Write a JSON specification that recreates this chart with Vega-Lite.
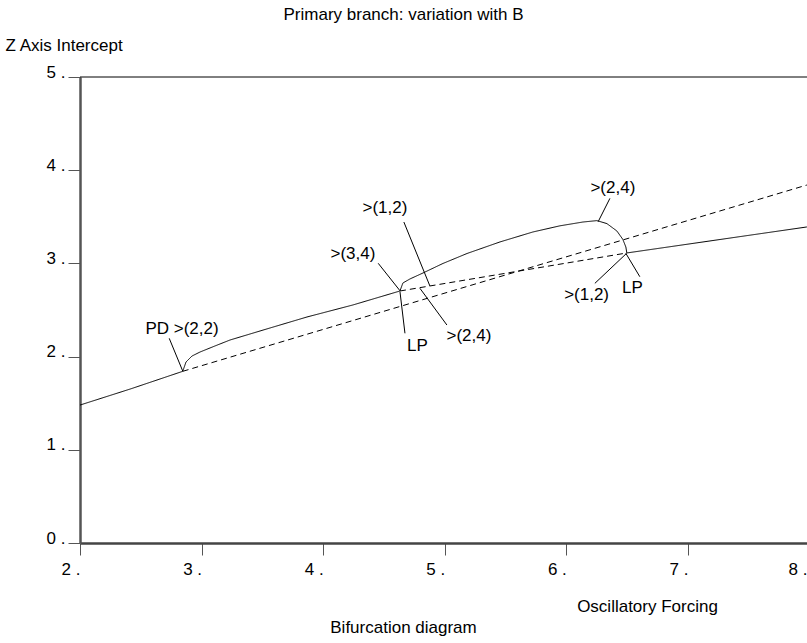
{
  "$schema": "https://vega.github.io/schema/vega-lite/v6.json",
  "width": 727,
  "height": 466,
  "autosize": {"type": "none"},
  "padding": {"left": 80, "top": 77, "right": 0, "bottom": 100},
  "background": "white",
  "config": {
    "view": {"stroke": null},
    "font": "Liberation Sans",
    "axis": {"labelFont": "Liberation Sans", "titleFont": "Liberation Sans", "labelColor": "black", "titleColor": "black", "titleFontWeight": "normal", "grid": false}
  },
  "title": {"text": "Primary branch: variation with B", "anchor": "middle", "frame": "group", "dx": -40, "offset": 12, "fontSize": 17, "fontWeight": "normal", "font": "Liberation Sans", "color": "black"},
  "datasets": {
    "curves": [
      {"seg": "A", "dash": "solid", "o": 1, "x": 2.0, "y": 1.48},
      {"seg": "A", "dash": "solid", "o": 2, "x": 2.42, "y": 1.655},
      {"seg": "A", "dash": "solid", "o": 3, "x": 2.845, "y": 1.842},
      {"seg": "B", "dash": "dashed", "o": 1, "x": 2.845, "y": 1.842},
      {"seg": "B", "dash": "dashed", "o": 2, "x": 7.979, "y": 3.841},
      {"seg": "C", "dash": "solid", "o": 1, "x": 2.845, "y": 1.842},
      {"seg": "C", "dash": "solid", "o": 2, "x": 2.872, "y": 1.942},
      {"seg": "C", "dash": "solid", "o": 3, "x": 2.921, "y": 2.006},
      {"seg": "C", "dash": "solid", "o": 4, "x": 2.987, "y": 2.049},
      {"seg": "C", "dash": "solid", "o": 5, "x": 3.11, "y": 2.114},
      {"seg": "C", "dash": "solid", "o": 6, "x": 3.234, "y": 2.178},
      {"seg": "C", "dash": "solid", "o": 7, "x": 3.563, "y": 2.307},
      {"seg": "C", "dash": "solid", "o": 8, "x": 3.867, "y": 2.425},
      {"seg": "C", "dash": "solid", "o": 9, "x": 4.245, "y": 2.554},
      {"seg": "C", "dash": "solid", "o": 10, "x": 4.632, "y": 2.704},
      {"seg": "D", "dash": "solid", "o": 1, "x": 4.632, "y": 2.704},
      {"seg": "D", "dash": "solid", "o": 2, "x": 4.656, "y": 2.79},
      {"seg": "D", "dash": "solid", "o": 3, "x": 4.714, "y": 2.833},
      {"seg": "D", "dash": "solid", "o": 4, "x": 4.821, "y": 2.897},
      {"seg": "D", "dash": "solid", "o": 5, "x": 4.985, "y": 2.999},
      {"seg": "D", "dash": "solid", "o": 6, "x": 5.183, "y": 3.106},
      {"seg": "D", "dash": "solid", "o": 7, "x": 5.454, "y": 3.23},
      {"seg": "D", "dash": "solid", "o": 8, "x": 5.725, "y": 3.337},
      {"seg": "D", "dash": "solid", "o": 9, "x": 5.947, "y": 3.403},
      {"seg": "D", "dash": "solid", "o": 10, "x": 6.137, "y": 3.444},
      {"seg": "D", "dash": "solid", "o": 11, "x": 6.252, "y": 3.459},
      {"seg": "D", "dash": "solid", "o": 12, "x": 6.334, "y": 3.427},
      {"seg": "D", "dash": "solid", "o": 13, "x": 6.416, "y": 3.348},
      {"seg": "D", "dash": "solid", "o": 14, "x": 6.465, "y": 3.258},
      {"seg": "D", "dash": "solid", "o": 15, "x": 6.49, "y": 3.176},
      {"seg": "D", "dash": "solid", "o": 16, "x": 6.498, "y": 3.112},
      {"seg": "E", "dash": "solid", "o": 1, "x": 6.498, "y": 3.112},
      {"seg": "E", "dash": "solid", "o": 2, "x": 7.979, "y": 3.391},
      {"seg": "F", "dash": "dashed", "o": 1, "x": 4.632, "y": 2.704},
      {"seg": "F", "dash": "dashed", "o": 2, "x": 6.498, "y": 3.112}
    ],
    "pointers": [
      {"x": 2.734, "y": 2.196, "x2": 2.845, "y2": 1.845},
      {"x": 4.453, "y": 3.001, "x2": 4.632, "y2": 2.707},
      {"x": 4.632, "y": 2.696, "x2": 4.673, "y2": 2.25},
      {"x": 4.664, "y": 3.444, "x2": 4.878, "y2": 2.758},
      {"x": 4.796, "y": 2.733, "x2": 5.018, "y2": 2.339},
      {"x": 6.359, "y": 3.698, "x2": 6.262, "y2": 3.447},
      {"x": 6.235, "y": 2.786, "x2": 6.496, "y2": 3.108},
      {"x": 6.49, "y": 3.108, "x2": 6.605, "y2": 2.857}
    ],
    "labels": [
      {"x": 2.839, "y": 2.296, "label": "PD >(2,2)"},
      {"x": 4.245, "y": 3.101, "label": ">(3,4)"},
      {"x": 4.776, "y": 2.119, "label": "LP"},
      {"x": 4.508, "y": 3.594, "label": ">(1,2)"},
      {"x": 5.199, "y": 2.226, "label": ">(2,4)"},
      {"x": 6.383, "y": 3.814, "label": ">(2,4)"},
      {"x": 6.167, "y": 2.661, "label": ">(1,2)"},
      {"x": 6.544, "y": 2.736, "label": "LP"}
    ],
    "frame": [
      {"x": 2, "x2": 7.98, "y": 5}
    ]
  },
  "resolve": {"axis": {"x": "independent"}},
  "layer": [
    {
      "data": {"name": "curves"},
      "mark": {"type": "line", "color": "black", "strokeWidth": 1, "clip": true},
      "encoding": {
        "x": {
          "field": "x", "type": "quantitative",
          "scale": {"domain": [2, 7.98], "nice": false, "zero": false},
          "axis": {
            "values": [2, 3, 4, 5, 6, 7, 7.979],
            "labelExpr": "datum.value > 7.5 ? '8 .' : datum.value + ' .'",
            "tickSize": 12,
            "tickColor": {"condition": {"test": "datum.value > 7.5", "value": "transparent"}, "value": "#555"},
            "domainColor": "#444", "domainWidth": 2.5,
            "labelAlign": "right", "labelDx": -3, "labelBaseline": "top", "labelPadding": 6,
            "labelFontSize": 17, "labelFlush": false, "labelOverlap": false, "labelBound": false,
            "title": "Oscillatory Forcing", "titleX": 567, "titleY": 63, "titleAlign": "center",
            "titleBaseline": "middle", "titleFontSize": 17
          }
        },
        "y": {
          "field": "y", "type": "quantitative",
          "title": "Z Axis Intercept",
          "scale": {"domain": [0, 5], "nice": false, "zero": false},
          "axis": {
            "values": [0, 1, 2, 3, 4, 5], "labelExpr": "datum.value + ' .'",
            "tickSize": 12, "tickColor": "#555", "domainColor": "#555", "domainWidth": 2.5,
            "labelBaseline": "alphabetic", "labelPadding": 3, "labelFontSize": 17,
            "titleAngle": 0, "titleX": -75, "titleY": -32,
            "titleAlign": "left", "titleBaseline": "middle", "titleFontSize": 17
          }
        },
        "detail": {"field": "seg"},
        "order": {"field": "o", "type": "quantitative"},
        "strokeDash": {"field": "dash", "type": "nominal", "scale": {"domain": ["solid", "dashed"], "range": [[1, 0], [6, 4]]}, "legend": null}
      }
    },
    {
      "data": {"name": "frame"},
      "mark": {"type": "rule", "color": "black", "strokeWidth": 1},
      "encoding": {
        "x": {"field": "x", "type": "quantitative", "axis": null},
        "x2": {"field": "x2"},
        "y": {"field": "y", "type": "quantitative", "title": "Z Axis Intercept"}
      }
    },
    {
      "data": {"name": "pointers"},
      "mark": {"type": "rule", "color": "black", "strokeWidth": 1},
      "encoding": {
        "x": {"field": "x", "type": "quantitative", "axis": {"orient": "bottom", "labels": false, "ticks": false, "domain": false, "title": "Bifurcation diagram", "titleX": 323, "titleY": 84, "titleAlign": "center", "titleBaseline": "middle", "titleFontSize": 17}},
        "y": {"field": "y", "type": "quantitative", "title": "Z Axis Intercept"},
        "x2": {"field": "x2"},
        "y2": {"field": "y2"}
      }
    },
    {
      "data": {"name": "labels"},
      "mark": {"type": "text", "font": "Liberation Sans", "fontSize": 17, "color": "black", "align": "center", "baseline": "middle"},
      "encoding": {
        "x": {"field": "x", "type": "quantitative", "axis": null},
        "y": {"field": "y", "type": "quantitative", "title": "Z Axis Intercept"},
        "text": {"field": "label"}
      }
    }
  ]
}
